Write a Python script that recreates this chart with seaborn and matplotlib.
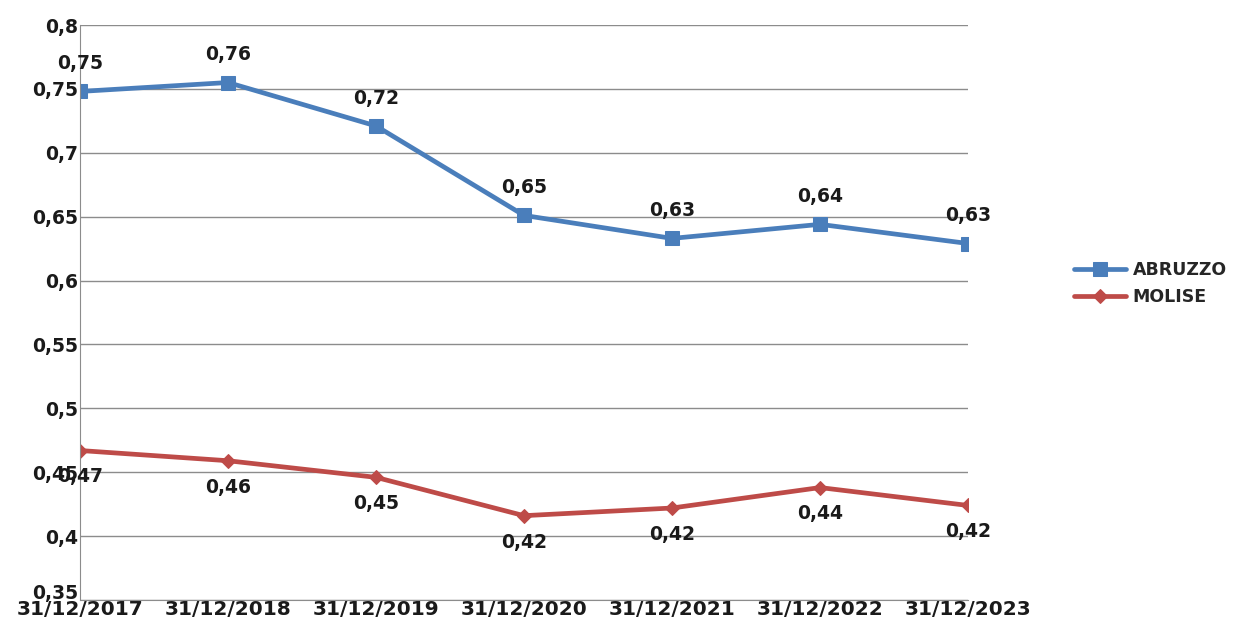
import pandas as pd
import seaborn as sns
import matplotlib.pyplot as plt
import matplotlib.transforms as mtransforms

dates = ["31/12/2017", "31/12/2018", "31/12/2019", "31/12/2020",
         "31/12/2021", "31/12/2022", "31/12/2023"]
abruzzo = [0.748, 0.755, 0.721, 0.651, 0.633, 0.644, 0.629]
molise = [0.467, 0.459, 0.446, 0.416, 0.422, 0.438, 0.424]

data = pd.DataFrame({
    "data": dates * 2,
    "valore": abruzzo + molise,
    "regione": ["ABRUZZO"] * len(dates) + ["MOLISE"] * len(dates),
})

sns.set_style("white")
plt.rcParams['font.family'] = ['DejaVu Sans']

fig = plt.figure(figsize=(12.42, 6.30), dpi=100)
ax = fig.add_axes([0.0644, 0.0476, 0.715, 0.9127])

colors = {"ABRUZZO": "#4a7ebb", "MOLISE": "#be4b48"}
sns.lineplot(data=data, x="data", y="valore", hue="regione", style="regione",
             palette=colors, markers={"ABRUZZO": "s", "MOLISE": "D"},
             dashes=False, linewidth=3.4, ax=ax, sort=False)
for line in ax.lines:
    if line.get_marker() == "s":
        line.set_markersize(10)
    else:
        line.set_markersize(7)
    line.set_markeredgecolor(line.get_color())

# etichette dati
for i, v in enumerate(abruzzo):
    ax.annotate(f"{v:.2f}".replace(".", ","), (i, v), xytext=(0, 20),
                textcoords="offset points", ha="center", va="center",
                fontsize=13.5, fontweight="bold", color="#1a1a1a")
for i, v in enumerate(molise):
    ax.annotate(f"{v:.2f}".replace(".", ","), (i, v), xytext=(0, -19),
                textcoords="offset points", ha="center", va="center",
                fontsize=13.5, fontweight="bold", color="#1a1a1a")

ax.set_xlim(0, len(dates) - 1)
ax.set_ylim(0.35, 0.8)
yt = [0.35 + 0.05 * k for k in range(10)]
ax.set_yticks(yt)
ax.set_yticklabels([f"{t:.2f}".rstrip("0").replace(".", ",") for t in yt],
                   fontsize=13.5, fontweight="bold", color="#1a1a1a")
ax.set_xticks(range(len(dates)))
ax.set_xticklabels(dates, fontsize=14.5, fontweight="bold", color="#1a1a1a")
ax.tick_params(axis="y", length=0, pad=1)
ax.tick_params(axis="x", length=0, pad=0)
# 0,35 sta un po' sopra l'asse
lab0 = ax.get_yticklabels()[0]
lab0.set_transform(lab0.get_transform() +
                   mtransforms.ScaledTranslation(0, 6 / 72, fig.dpi_scale_trans))
ax.grid(axis="y", color="#8c8c8c", linewidth=1)
ax.set_xlabel("")
ax.set_ylabel("")
for s in ["top", "right"]:
    ax.spines[s].set_visible(False)
for s in ["left", "bottom"]:
    ax.spines[s].set_color("#8c8c8c")

handles, labels = ax.get_legend_handles_labels()
ax.get_legend().remove()
fig.legend(handles, labels, loc="center left", bbox_to_anchor=(0.852, 0.55),
           frameon=False, prop={"size": 12.5, "weight": "bold"},
           handlelength=3.0, handletextpad=0.4, labelspacing=0.55)

fig.savefig("out.png", dpi=100)
